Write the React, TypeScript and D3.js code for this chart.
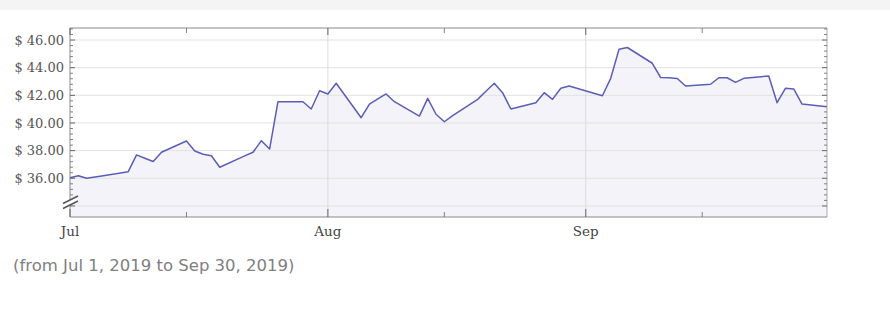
import React from "react";
import * as d3 from "d3";

const dates: string[] = [
  "2019-07-01","2019-07-02","2019-07-03","2019-07-05","2019-07-08","2019-07-09","2019-07-10","2019-07-11","2019-07-12",
  "2019-07-15","2019-07-16","2019-07-17","2019-07-18","2019-07-19","2019-07-22","2019-07-23","2019-07-24","2019-07-25",
  "2019-07-26","2019-07-29","2019-07-30","2019-07-31",
  "2019-08-01","2019-08-02","2019-08-05","2019-08-06","2019-08-07","2019-08-08","2019-08-09","2019-08-12","2019-08-13",
  "2019-08-14","2019-08-15","2019-08-16","2019-08-19","2019-08-20","2019-08-21","2019-08-22","2019-08-23","2019-08-26",
  "2019-08-27","2019-08-28","2019-08-29","2019-08-30",
  "2019-09-03","2019-09-04","2019-09-05","2019-09-06","2019-09-09","2019-09-10","2019-09-11","2019-09-12","2019-09-13",
  "2019-09-16","2019-09-17","2019-09-18","2019-09-19","2019-09-20","2019-09-23","2019-09-24","2019-09-25","2019-09-26",
  "2019-09-27","2019-09-30",
];

const prices: number[] = [
  36.04, 36.19, 36.0, 36.19, 36.48, 37.69, 37.45, 37.21, 37.88,
  38.7, 37.97, 37.74, 37.63, 36.8, 37.62, 37.88, 38.72, 38.12,
  41.54, 41.54, 41.01, 42.33,
  42.1, 42.87, 40.38, 41.37, 41.74, 42.1, 41.54, 40.5, 41.78,
  40.63, 40.09, 40.53, 41.71, 42.29, 42.87, 42.19, 41.01, 41.47,
  42.19, 41.71, 42.51, 42.67,
  41.97, 43.23, 45.33, 45.46, 44.32, 43.29, 43.27, 43.22, 42.67,
  42.8, 43.27, 43.27, 42.94, 43.23, 43.4, 41.47, 42.51, 42.46,
  41.37, 41.18,
];

const yTickValues: number[] = [36, 38, 40, 42, 44, 46];
const yGridValues: number[] = [34, 36, 38, 40, 42, 44, 46];
const monthTicks: string[] = ["2019-07-01", "2019-08-01", "2019-09-01"];
const monthLabels: string[] = ["Jul", "Aug", "Sep"];
const midTicks: string[] = ["2019-07-15", "2019-08-15", "2019-09-15"];
const xDomain: string[] = ["2019-07-01", "2019-09-30"];
const yDomain: number[] = [33.2, 46.87];
const footnote = "(from Jul 1, 2019 to Sep 30, 2019)";

const parse = d3.utcParse("%Y-%m-%d");

export default function App() {
  const W = 890, H = 310;
  const left = 70, right = 827, top = 28, bottom = 217;
  const x = d3.scaleUtc().domain(xDomain.map((s) => parse(s)!)).range([left, right]);
  const y = d3.scaleLinear().domain(yDomain).range([bottom, top]);

  const data = dates.map((d, i) => ({ d: parse(d)!, v: prices[i] }));
  const line = d3.line<{ d: Date; v: number }>().x((p) => x(p.d)).y((p) => y(p.v));
  const area = d3
    .area<{ d: Date; v: number }>()
    .x((p) => x(p.d))
    .y0(bottom)
    .y1((p) => y(p.v));

  // minor y ticks every 0.4
  const minorY: number[] = [];
  for (let v = 34; v <= 46.8 + 1e-9; v += 0.4) {
    const r = Math.round(v * 10) / 10;
    if (r >= yDomain[0] && r <= yDomain[1] && Math.abs(r / 2 - Math.round(r / 2)) > 1e-6) minorY.push(r);
  }
  const majorY = yGridValues;

  const serif = "'DejaVu Serif', serif";
  const axisColor = "#8a8a8a";
  const tickColor = "#666";

  const breakY = 202;

  return (
    <svg width={W} height={H} style={{ position: "absolute", left: 0, top: 0, background: "#fff" }}>
      <rect x={0} y={0} width={W} height={10} fill="#f4f4f4" />

      {/* area fill */}
      <path d={area(data) || ""} fill="#f3f3f9" stroke="none" />

      {/* horizontal gridlines */}
      {yGridValues.map((v) => (
        <line key={"g" + v} x1={left} x2={right} y1={y(v)} y2={y(v)} stroke="#e2e2e2" strokeWidth={1} />
      ))}
      {/* vertical gridlines */}
      {monthTicks.slice(1).map((m) => (
        <line key={"vg" + m} x1={x(parse(m)!)} x2={x(parse(m)!)} y1={top} y2={bottom} stroke="#dcdcdc" strokeWidth={1} />
      ))}

      {/* line */}
      <path d={line(data) || ""} fill="none" stroke="#5b5eb6" strokeWidth={1.5} strokeLinejoin="round" />

      {/* frame */}
      <line x1={left} x2={right} y1={top} y2={top} stroke={axisColor} strokeWidth={1} />
      <line x1={right} x2={right} y1={top} y2={bottom} stroke="#aaa" strokeWidth={1} />
      <line x1={left} x2={right} y1={bottom} y2={bottom} stroke={axisColor} strokeWidth={1} />
      <line x1={left} x2={left} y1={top} y2={bottom} stroke={axisColor} strokeWidth={1} />

      {/* y ticks */}
      {majorY.map((v) => (
        <g key={"my" + v}>
          <line x1={left} x2={left + 5} y1={y(v)} y2={y(v)} stroke={tickColor} strokeWidth={1} />
          <line x1={right} x2={right - 5} y1={y(v)} y2={y(v)} stroke={tickColor} strokeWidth={1} />
        </g>
      ))}
      {minorY.map((v) => (
        <g key={"ny" + v}>
          <line x1={left} x2={left + 3} y1={y(v)} y2={y(v)} stroke={tickColor} strokeWidth={0.8} />
          <line x1={right} x2={right - 3} y1={y(v)} y2={y(v)} stroke={tickColor} strokeWidth={0.8} />
        </g>
      ))}

      {/* x ticks */}
      {monthTicks.map((m) => {
        const xx = x(parse(m)!);
        return (
          <g key={"mx" + m}>
            <line x1={xx} x2={xx} y1={bottom} y2={bottom - 8} stroke={tickColor} strokeWidth={1} />
            <line x1={xx} x2={xx} y1={top} y2={top + 7} stroke={tickColor} strokeWidth={1} />
          </g>
        );
      })}
      {midTicks.map((m) => {
        const xx = x(parse(m)!);
        return (
          <g key={"nx" + m}>
            <line x1={xx} x2={xx} y1={bottom} y2={bottom - 5} stroke={tickColor} strokeWidth={0.8} />
            <line x1={xx} x2={xx} y1={top} y2={top + 5} stroke={tickColor} strokeWidth={0.8} />
          </g>
        );
      })}

      {/* y labels */}
      {yTickValues.map((v) => (
        <text
          key={"yl" + v}
          x={left - 6}
          y={y(v)}
          dy="0.36em"
          textAnchor="end"
          fontFamily={serif}
          fontSize={13}
          fill="#555"
        >
          {"$ " + v.toFixed(2)}
        </text>
      ))}

      {/* x labels */}
      {monthTicks.map((m, i) => (
        <text
          key={"xl" + m}
          x={x(parse(m)!)}
          y={236}
          textAnchor="middle"
          fontFamily={serif}
          fontSize={13.5}
          fill="#444"
        >
          {monthLabels[i]}
        </text>
      ))}

      {/* axis break */}
      <polygon
        points={`${left - 7},${breakY + 2} ${left + 8},${breakY - 6} ${left + 8},${breakY - 1} ${left - 7},${breakY + 7}`}
        fill="#fff"
      />
      <line x1={left - 7} x2={left + 8} y1={breakY + 1.5} y2={breakY - 6} stroke="#555" strokeWidth={1.4} />
      <line x1={left - 7} x2={left + 8} y1={breakY + 6.5} y2={breakY - 1} stroke="#555" strokeWidth={1.4} />

      {/* footnote */}
      <text x={13} y={271} fontFamily="'DejaVu Sans', sans-serif" fontSize={16.5} fill="#808080">
        {footnote}
      </text>
    </svg>
  );
}
